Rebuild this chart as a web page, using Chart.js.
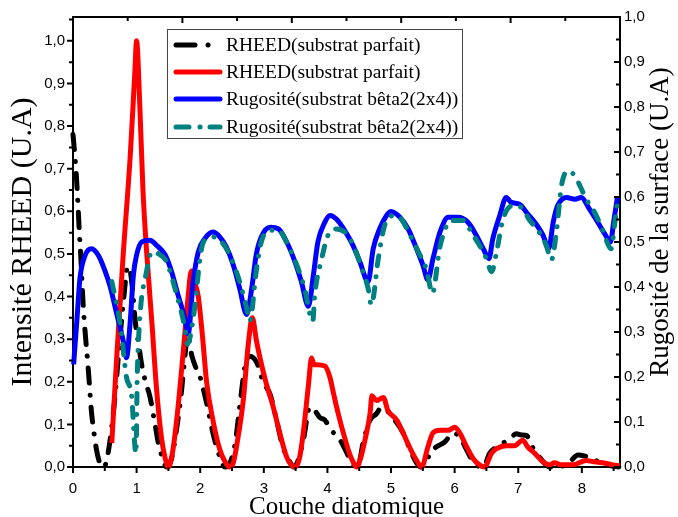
<!DOCTYPE html>
<html><head><meta charset="utf-8">
<script src="https://cdn.jsdelivr.net/npm/chart.js@4.4.1/dist/chart.umd.min.js"></script>
<style>html,body{margin:0;padding:0;background:#fff;}canvas{display:block;}</style>
</head><body>
<canvas id="c" width="678" height="517"></canvas>
<script>
// ---------- data ----------
const seriesNames = ["RHEED(substrat parfait)", "RHEED(substrat parfait)", "Rugosité(substrat bêta2(2x4))", "Rugosité(substrat bêta2(2x4))"];

const blackX = [0.00,0.03,0.05,0.08,0.10,0.12,0.16,0.20,0.24,0.29,0.33,0.37,0.42,0.47,0.52,0.58,0.65,0.72,0.80,0.86,0.90,0.94,0.98,1.03,1.08,1.14,1.21,1.29,1.35,1.40,1.47,1.55,1.62,1.70,1.76,1.80,1.87,1.94,2.00,2.07,2.13,2.20,2.31,2.39,2.47,2.55,2.62,2.70,2.78,2.89,2.99,3.10,3.20,3.30,3.41,3.47,3.55,3.63,3.72,3.80,3.88,3.96,4.06,4.17,4.25,4.35,4.45,4.50,4.56,4.67,4.77,4.85,4.93,5.06,5.19,5.30,5.40,5.47,5.55,5.61,5.71,5.84,5.98,6.08,6.19,6.30,6.45,6.55,6.66,6.76,6.87,6.97,7.05,7.13,7.21,7.31,7.42,7.50,7.71,7.81,7.94,8.04,8.15,8.30,8.46,8.58];
const blackY = [0.78,0.73,0.69,0.61,0.55,0.50,0.38,0.30,0.23,0.13,0.08,0.04,0.01,0.00,0.01,0.06,0.15,0.27,0.40,0.47,0.46,0.41,0.34,0.29,0.24,0.20,0.165,0.10,0.05,0.025,0.00,0.02,0.08,0.17,0.26,0.31,0.26,0.23,0.21,0.17,0.13,0.08,0.023,0.00,0.01,0.056,0.14,0.233,0.26,0.245,0.20,0.17,0.11,0.047,0.012,0.00,0.02,0.07,0.14,0.133,0.116,0.11,0.086,0.07,0.05,0.02,0.00,0.01,0.056,0.11,0.125,0.14,0.133,0.11,0.08,0.04,0.01,0.00,0.01,0.032,0.047,0.058,0.08,0.07,0.04,0.01,0.00,0.032,0.047,0.056,0.067,0.078,0.075,0.074,0.05,0.028,0.008,0.00,0.003,0.012,0.028,0.026,0.02,0.01,0.003,0.00];

const redX = [0.61,0.69,0.79,0.90,0.97,1.00,1.05,1.10,1.16,1.24,1.31,1.39,1.45,1.50,1.56,1.63,1.73,1.81,1.86,1.92,1.97,2.04,2.10,2.20,2.31,2.40,2.46,2.52,2.57,2.68,2.75,2.82,2.88,2.94,3.04,3.15,3.25,3.36,3.43,3.49,3.56,3.62,3.70,3.75,3.79,3.83,3.96,4.04,4.10,4.17,4.25,4.35,4.41,4.46,4.52,4.59,4.67,4.70,4.77,4.88,4.95,5.09,5.19,5.29,5.40,5.48,5.58,5.66,5.77,5.90,6.00,6.08,6.19,6.29,6.39,6.47,6.58,6.66,6.81,6.94,7.07,7.15,7.26,7.39,7.49,7.57,7.67,7.85,8.07,8.17,8.33,8.49,8.60];
const redY = [0.056,0.265,0.50,0.73,0.92,1.00,0.85,0.65,0.50,0.34,0.19,0.07,0.02,0.00,0.03,0.11,0.265,0.40,0.46,0.43,0.40,0.30,0.20,0.11,0.04,0.01,0.00,0.01,0.047,0.16,0.28,0.35,0.30,0.256,0.195,0.14,0.08,0.023,0.005,0.00,0.02,0.08,0.19,0.256,0.24,0.24,0.237,0.21,0.17,0.125,0.08,0.03,0.01,0.00,0.02,0.063,0.125,0.167,0.156,0.163,0.133,0.11,0.08,0.047,0.016,0.00,0.047,0.08,0.086,0.086,0.093,0.08,0.047,0.02,0.005,0.00,0.032,0.043,0.05,0.05,0.063,0.047,0.032,0.012,0.005,0.01,0.005,0.005,0.015,0.013,0.01,0.005,0.003];

const blueX = [0.01,0.06,0.11,0.19,0.29,0.40,0.50,0.58,0.69,0.79,0.84,0.90,0.95,1.00,1.08,1.21,1.31,1.45,1.55,1.65,1.76,1.81,1.89,1.97,2.07,2.20,2.31,2.41,2.52,2.62,2.73,2.81,2.88,2.96,3.10,3.23,3.36,3.49,3.59,3.70,3.78,3.85,3.96,4.04,4.14,4.27,4.40,4.51,4.64,4.72,4.82,4.93,5.00,5.14,5.27,5.37,5.50,5.58,5.66,5.77,5.90,6.05,6.21,6.34,6.45,6.54,6.60,6.71,6.81,6.89,7.02,7.15,7.28,7.39,7.48,7.55,7.62,7.76,7.89,7.99,8.12,8.25,8.36,8.45,8.50,8.56];
const blueY = [0.228,0.324,0.42,0.47,0.485,0.47,0.437,0.403,0.339,0.28,0.243,0.324,0.427,0.471,0.50,0.504,0.493,0.471,0.434,0.383,0.33,0.295,0.412,0.478,0.507,0.522,0.511,0.489,0.449,0.397,0.339,0.397,0.471,0.511,0.533,0.529,0.50,0.456,0.412,0.357,0.427,0.50,0.544,0.559,0.551,0.526,0.493,0.456,0.412,0.485,0.529,0.559,0.568,0.555,0.529,0.496,0.449,0.416,0.463,0.522,0.555,0.555,0.544,0.515,0.485,0.463,0.507,0.559,0.599,0.588,0.584,0.562,0.540,0.515,0.485,0.544,0.581,0.599,0.595,0.599,0.573,0.544,0.518,0.50,0.544,0.60];

const tealX = [0.61,0.74,0.84,0.92,0.99,1.01,1.05,1.15,1.24,1.34,1.47,1.63,1.76,1.80,1.89,2.02,2.10,2.23,2.36,2.49,2.62,2.73,2.78,2.88,2.96,3.10,3.23,3.38,3.54,3.64,3.77,3.80,3.91,4.01,4.14,4.30,4.43,4.54,4.64,4.69,4.80,4.90,5.06,5.16,5.29,5.43,5.56,5.65,5.77,5.95,6.13,6.29,6.39,6.50,6.58,6.66,6.76,6.92,7.05,7.18,7.31,7.44,7.52,7.60,7.68,7.78,7.89,7.97,8.07,8.20,8.33,8.46,8.52,8.57];
const tealY = [0.412,0.32,0.20,0.16,0.03,0.20,0.33,0.43,0.478,0.474,0.456,0.383,0.308,0.273,0.33,0.485,0.507,0.511,0.496,0.463,0.412,0.353,0.324,0.434,0.50,0.526,0.526,0.493,0.441,0.397,0.324,0.381,0.463,0.515,0.529,0.518,0.485,0.441,0.397,0.36,0.463,0.537,0.559,0.551,0.518,0.478,0.438,0.386,0.49,0.548,0.548,0.515,0.493,0.463,0.434,0.478,0.551,0.581,0.577,0.548,0.526,0.493,0.46,0.522,0.625,0.658,0.647,0.625,0.595,0.566,0.526,0.485,0.544,0.599];

const xTicks = [0,1,2,3,4,5,6,7,8];
const xMinorTicks = [0.5,1.5,2.5,3.5,4.5,5.5,6.5,7.5,8.5];
const yTicks = [0,0.1,0.2,0.3,0.4,0.5,0.6,0.7,0.8,0.9,1.0];
const y2Ticks = [0,0.1,0.2,0.3,0.4,0.5,0.6,0.7,0.8,0.9,1.0];
const topTicks = [1,2,3,4,5,6,7,8,9];

const xTitle = "Couche diatomique";
const yTitle = "Intensité RHEED (U.A)";
const y2Title = "Rugosité de la surface (U.A)";

// ---------- helpers ----------
const pts = (xs, ys) => xs.map((x, i) => ({x: x, y: ys[i]}));
const fmt = v => v.toFixed(1).replace('.', ',');
const serif = 'Liberation Serif';
const sans = 'Liberation Sans';

const tickPlugin = {
  id: 'tickmarks',
  afterDraw(chart) {
    const {ctx, chartArea: a, scales: s} = chart;
    ctx.save();
    ctx.strokeStyle = '#000';
    ctx.lineWidth = 2;
    ctx.beginPath();
    const minor = arr => arr.slice(0, -1).map((v, i) => (v + arr[i + 1]) / 2);
    // left axis (outward)
    yTicks.forEach(v => { const p = s.y.getPixelForValue(v); ctx.moveTo(a.left - 6, p); ctx.lineTo(a.left, p); });
    minor(yTicks).concat([1.05]).forEach(v => { const p = s.y.getPixelForValue(v); ctx.moveTo(a.left - 4, p); ctx.lineTo(a.left, p); });
    // right axis (inward)
    y2Ticks.forEach(v => { const p = s.y2.getPixelForValue(v); ctx.moveTo(a.right - 6, p); ctx.lineTo(a.right, p); });
    minor(y2Ticks).forEach(v => { const p = s.y2.getPixelForValue(v); ctx.moveTo(a.right - 4, p); ctx.lineTo(a.right, p); });
    // bottom axis (outward)
    xTicks.forEach(v => { const p = s.x.getPixelForValue(v); ctx.moveTo(p, a.bottom); ctx.lineTo(p, a.bottom + 6); });
    xMinorTicks.forEach(v => { const p = s.x.getPixelForValue(v); ctx.moveTo(p, a.bottom); ctx.lineTo(p, a.bottom + 4); });
    // top axis (inward)
    topTicks.forEach(v => { const p = s.x2.getPixelForValue(v); const L = v % 2 === 0 ? 6 : 4; ctx.moveTo(p, a.top); ctx.lineTo(p, a.top + L); });
    ctx.stroke();

    // right axis title (reads bottom to top)
    ctx.fillStyle = '#000';
    ctx.font = '27px "' + serif + '"';
    ctx.textAlign = 'center';
    ctx.textBaseline = 'middle';
    ctx.translate(661, 222);
    ctx.rotate(-Math.PI / 2);
    ctx.fillText(y2Title, 0, 0);
    ctx.restore();

    // legend
    ctx.save();
    const bx = 167, by = 29, bw = 295, bh = 109;
    ctx.fillStyle = '#fff';
    ctx.fillRect(bx, by, bw, bh);
    ctx.strokeStyle = '#444';
    ctx.lineWidth = 1;
    ctx.strokeRect(bx + 0.5, by + 0.5, bw, bh);
    const rows = [45, 72, 99, 127];
    const colors = ['#000000', '#ff0000', '#0000ff', '#008080'];
    ctx.lineCap = 'round';
    ctx.lineWidth = 5;
    rows.forEach((ry, i) => {
      ctx.strokeStyle = colors[i];
      ctx.beginPath();
      if (i === 0) {
        ctx.moveTo(176, ry); ctx.lineTo(195, ry);
        ctx.moveTo(208, ry); ctx.lineTo(208.1, ry);
      } else if (i === 3) {
        ctx.moveTo(176, ry); ctx.lineTo(189, ry);
        ctx.moveTo(200, ry); ctx.lineTo(200.1, ry);
        ctx.moveTo(210, ry); ctx.lineTo(220, ry);
      } else {
        ctx.moveTo(176, ry); ctx.lineTo(220, ry);
      }
      ctx.stroke();
      ctx.fillStyle = '#000';
      ctx.font = '19.5px "' + serif + '"';
      ctx.textAlign = 'left';
      ctx.textBaseline = 'middle';
      ctx.fillText(seriesNames[i], 226, ry + 1);
    });
    ctx.restore();
  }
};

const lineDs = (label, xs, ys, color, axis, dash, order) => ({
  label: label,
  data: pts(xs, ys),
  yAxisID: axis,
  borderColor: color,
  backgroundColor: color,
  borderWidth: 5,
  borderDash: dash,
  borderCapStyle: dash.length ? 'round' : 'butt',
  borderJoinStyle: 'round',
  pointRadius: 0,
  pointHoverRadius: 0,
  fill: false,
  tension: 0.25,
  cubicInterpolationMode: 'monotone',
  clip: false,
  order: order
});

new Chart(document.getElementById('c'), {
  type: 'line',
  data: {
    datasets: [
      lineDs(seriesNames[0], blackX, blackY, '#000000', 'y', [15, 12, 0.01, 12], 4),
      lineDs(seriesNames[1], redX, redY, '#ff0000', 'y', [], 3),
      lineDs(seriesNames[2], blueX, blueY, '#0000ff', 'y2', [], 2),
      lineDs(seriesNames[3], tealX, tealY, '#008080', 'y2', [10, 11, 0.01, 11], 1)
    ]
  },
  options: {
    responsive: false,
    animation: false,
    devicePixelRatio: 1,
    layout: {padding: 0},
    plugins: {legend: {display: false}, tooltip: {enabled: false}},
    scales: {
      x: {
        type: 'linear', position: 'bottom', min: 0, max: 8.6,
        afterBuildTicks: sc => { sc.ticks = xTicks.map(v => ({value: v})); },
        afterFit: sc => { sc.height = 50; },
        grid: {display: false, drawTicks: false},
        border: {display: true, color: '#000', width: 2},
        ticks: {color: '#000', font: {family: sans, size: 15}, padding: 13, maxRotation: 0, autoSkip: false, callback: v => String(v)},
        title: {display: true, text: xTitle, color: '#000', font: {family: serif, size: 25, lineHeight: 1}, padding: {top: 0, bottom: -3}}
      },
      x2: {
        type: 'linear', position: 'top', min: 0, max: 10,
        afterFit: sc => { sc.height = 13; },
        grid: {display: false, drawTicks: false},
        border: {display: true, color: '#000', width: 2},
        ticks: {display: false}
      },
      y: {
        type: 'linear', position: 'left', min: 0, max: 1.056,
        afterBuildTicks: sc => { sc.ticks = yTicks.map(v => ({value: v})); },
        afterFit: sc => { sc.width = 73; },
        grid: {display: false, drawTicks: false},
        border: {display: true, color: '#000', width: 2},
        ticks: {color: '#000', font: {family: sans, size: 15}, padding: 8, autoSkip: false, callback: v => fmt(v)},
        title: {display: true, text: yTitle, color: '#000', font: {family: serif, size: 30, lineHeight: 1}, padding: {top: 8, bottom: 0}}
      },
      y2: {
        type: 'linear', position: 'right', min: 0, max: 1.0,
        afterBuildTicks: sc => { sc.ticks = y2Ticks.map(v => ({value: v})); },
        afterFit: sc => { sc.width = 58; },
        grid: {display: false, drawTicks: false},
        border: {display: true, color: '#000', width: 2},
        ticks: {color: '#000', font: {family: sans, size: 15}, padding: 4, autoSkip: false, callback: v => fmt(v)}
      }
    }
  },
  plugins: [tickPlugin]
});
</script>
</body></html>
